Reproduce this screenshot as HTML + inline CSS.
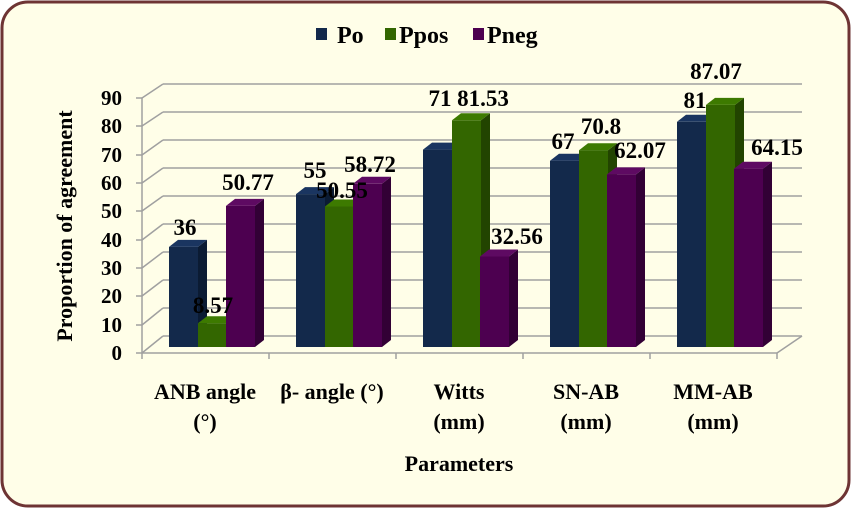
<!DOCTYPE html>
<html><head><meta charset="utf-8"><style>
html,body{margin:0;padding:0;background:#fff;}
svg{display:block;}
text{font-family:"Liberation Serif",serif;font-weight:bold;fill:#000;}
</style></head><body>
<svg width="851" height="508" xmlns="http://www.w3.org/2000/svg">
<rect x="2" y="2" width="847" height="504" rx="26" ry="26" fill="#fffee8" stroke="#6e3434" stroke-width="3"/>
<!-- legend -->
<rect x="316" y="28" width="11" height="12" fill="#13294b"/>
<text x="337" y="43" font-size="24">Po</text>
<rect x="385" y="28" width="11" height="12" fill="#336600"/>
<text x="399" y="43" font-size="24">Ppos</text>
<rect x="473" y="28" width="11" height="12" fill="#4d0050"/>
<text x="487" y="43" font-size="24">Pneg</text>
<!-- grid -->
<g stroke="#a0a0a0" stroke-width="1.5" fill="none">
<line x1="163" y1="336" x2="802" y2="336"/>
<line x1="163" y1="308" x2="802" y2="308"/>
<line x1="163" y1="280" x2="802" y2="280"/>
<line x1="163" y1="252" x2="802" y2="252"/>
<line x1="163" y1="224" x2="802" y2="224"/>
<line x1="163" y1="196" x2="802" y2="196"/>
<line x1="163" y1="168" x2="802" y2="168"/>
<line x1="163" y1="140" x2="802" y2="140"/>
<line x1="163" y1="112" x2="802" y2="112"/>
<line x1="163" y1="84" x2="802" y2="84"/>
<line x1="142" y1="353" x2="163" y2="336"/>
<line x1="142" y1="325" x2="163" y2="308"/>
<line x1="142" y1="296" x2="163" y2="280"/>
<line x1="142" y1="268" x2="163" y2="252"/>
<line x1="142" y1="240" x2="163" y2="224"/>
<line x1="142" y1="211" x2="163" y2="196"/>
<line x1="142" y1="183" x2="163" y2="168"/>
<line x1="142" y1="155" x2="163" y2="140"/>
<line x1="142" y1="126" x2="163" y2="112"/>
<line x1="142" y1="98" x2="163" y2="84"/>
<line x1="142" y1="98" x2="142" y2="353"/>
<line x1="142" y1="353" x2="777" y2="353"/>
<line x1="777" y1="353" x2="802" y2="336"/>
<line x1="136" y1="353" x2="142" y2="353"/>
<line x1="136" y1="325" x2="142" y2="325"/>
<line x1="136" y1="296" x2="142" y2="296"/>
<line x1="136" y1="268" x2="142" y2="268"/>
<line x1="136" y1="240" x2="142" y2="240"/>
<line x1="136" y1="211" x2="142" y2="211"/>
<line x1="136" y1="183" x2="142" y2="183"/>
<line x1="136" y1="155" x2="142" y2="155"/>
<line x1="136" y1="126" x2="142" y2="126"/>
<line x1="136" y1="98" x2="142" y2="98"/>
<line x1="142" y1="353" x2="142" y2="359"/>
<line x1="269" y1="353" x2="269" y2="359"/>
<line x1="396" y1="353" x2="396" y2="359"/>
<line x1="523" y1="353" x2="523" y2="359"/>
<line x1="650" y1="353" x2="650" y2="359"/>
<line x1="777" y1="353" x2="777" y2="359"/>
</g>
<g font-size="21" text-anchor="end">
<text x="122" y="360">0</text><text x="122" y="332">10</text><text x="122" y="303">20</text>
<text x="122" y="275">30</text><text x="122" y="247">40</text><text x="122" y="218">50</text>
<text x="122" y="190">60</text><text x="122" y="162">70</text><text x="122" y="133">80</text>
<text x="122" y="105">90</text>
</g>
<text transform="translate(72,226) rotate(-90)" font-size="22" text-anchor="middle">Proportion of agreement</text>

<!-- bars -->
<g>
<g transform="translate(169,246.9)"><rect width="29" height="100.1" fill="#13294b"/><g transform="translate(29,0) skewY(-37.87)"><rect width="9" height="100.1" fill="#0b1b33"/></g><rect y="-7" width="29" height="7" transform="skewX(-52.13)" fill="#1a3560"/></g>
<g transform="translate(198,323.2)"><rect width="29" height="23.8" fill="#336600"/><g transform="translate(29,0) skewY(-37.87)"><rect width="9" height="23.8" fill="#224400"/></g><rect y="-7" width="29" height="7" transform="skewX(-52.13)" fill="#3d7a00"/></g>
<g transform="translate(226,205.9)"><rect width="29" height="141.1" fill="#4d0050"/><g transform="translate(29,0) skewY(-37.87)"><rect width="9" height="141.1" fill="#320035"/></g><rect y="-7" width="29" height="7" transform="skewX(-52.13)" fill="#5e0a62"/></g>

<g transform="translate(296,194.1)"><rect width="29" height="152.9" fill="#13294b"/><g transform="translate(29,0) skewY(-37.87)"><rect width="9" height="152.9" fill="#0b1b33"/></g><rect y="-7" width="29" height="7" transform="skewX(-52.13)" fill="#1a3560"/></g>
<g transform="translate(325,206.5)"><rect width="29" height="140.5" fill="#336600"/><g transform="translate(29,0) skewY(-37.87)"><rect width="9" height="140.5" fill="#224400"/></g><rect y="-7" width="29" height="7" transform="skewX(-52.13)" fill="#3d7a00"/></g>
<g transform="translate(353,183.8)"><rect width="29" height="163.2" fill="#4d0050"/><g transform="translate(29,0) skewY(-37.87)"><rect width="9" height="163.2" fill="#320035"/></g><rect y="-7" width="29" height="7" transform="skewX(-52.13)" fill="#5e0a62"/></g>

<g transform="translate(423,149.6)"><rect width="29" height="197.4" fill="#13294b"/><g transform="translate(29,0) skewY(-37.87)"><rect width="9" height="197.4" fill="#0b1b33"/></g><rect y="-7" width="29" height="7" transform="skewX(-52.13)" fill="#1a3560"/></g>
<g transform="translate(452,120.3)"><rect width="29" height="226.7" fill="#336600"/><g transform="translate(29,0) skewY(-37.87)"><rect width="9" height="226.7" fill="#224400"/></g><rect y="-7" width="29" height="7" transform="skewX(-52.13)" fill="#3d7a00"/></g>
<g transform="translate(480,256.5)"><rect width="29" height="90.5" fill="#4d0050"/><g transform="translate(29,0) skewY(-37.87)"><rect width="9" height="90.5" fill="#320035"/></g><rect y="-7" width="29" height="7" transform="skewX(-52.13)" fill="#5e0a62"/></g>

<g transform="translate(550,160.7)"><rect width="29" height="186.3" fill="#13294b"/><g transform="translate(29,0) skewY(-37.87)"><rect width="9" height="186.3" fill="#0b1b33"/></g><rect y="-7" width="29" height="7" transform="skewX(-52.13)" fill="#1a3560"/></g>
<g transform="translate(579,150.2)"><rect width="29" height="196.8" fill="#336600"/><g transform="translate(29,0) skewY(-37.87)"><rect width="9" height="196.8" fill="#224400"/></g><rect y="-7" width="29" height="7" transform="skewX(-52.13)" fill="#3d7a00"/></g>
<g transform="translate(607,174.4)"><rect width="29" height="172.6" fill="#4d0050"/><g transform="translate(29,0) skewY(-37.87)"><rect width="9" height="172.6" fill="#320035"/></g><rect y="-7" width="29" height="7" transform="skewX(-52.13)" fill="#5e0a62"/></g>

<g transform="translate(677,121.8)"><rect width="29" height="225.2" fill="#13294b"/><g transform="translate(29,0) skewY(-37.87)"><rect width="9" height="225.2" fill="#0b1b33"/></g><rect y="-7" width="29" height="7" transform="skewX(-52.13)" fill="#1a3560"/></g>
<g transform="translate(706,104.9)"><rect width="29" height="242.1" fill="#336600"/><g transform="translate(29,0) skewY(-37.87)"><rect width="9" height="242.1" fill="#224400"/></g><rect y="-7" width="29" height="7" transform="skewX(-52.13)" fill="#3d7a00"/></g>
<g transform="translate(734,168.7)"><rect width="29" height="178.3" fill="#4d0050"/><g transform="translate(29,0) skewY(-37.87)"><rect width="9" height="178.3" fill="#320035"/></g><rect y="-7" width="29" height="7" transform="skewX(-52.13)" fill="#5e0a62"/></g>
</g>

<g font-size="23" text-anchor="middle">
<text x="185" y="235">36</text><text x="213" y="313">8.57</text><text x="248" y="190">50.77</text>
<text x="315" y="178">55</text><text x="342" y="198">50.55</text><text x="370" y="172">58.72</text>
<text x="440" y="106">71</text><text x="483" y="106">81.53</text><text x="517" y="244">32.56</text>
<text x="563" y="149">67</text><text x="601" y="134">70.8</text><text x="640" y="158">62.07</text>
<text x="695" y="108">81</text><text x="716" y="79">87.07</text><text x="777" y="155">64.15</text>
</g>
<g font-size="22" text-anchor="middle">
<text x="205" y="399">ANB angle</text><text x="205" y="429">(°)</text>
<text x="332" y="399">β- angle (°)</text>
<text x="459" y="399">Witts</text><text x="459" y="429">(mm)</text>
<text x="586" y="399">SN-AB</text><text x="586" y="429">(mm)</text>
<text x="713" y="399">MM-AB</text><text x="713" y="429">(mm)</text>
<text x="459" y="471">Parameters</text>
</g>
</svg>
</body></html>
